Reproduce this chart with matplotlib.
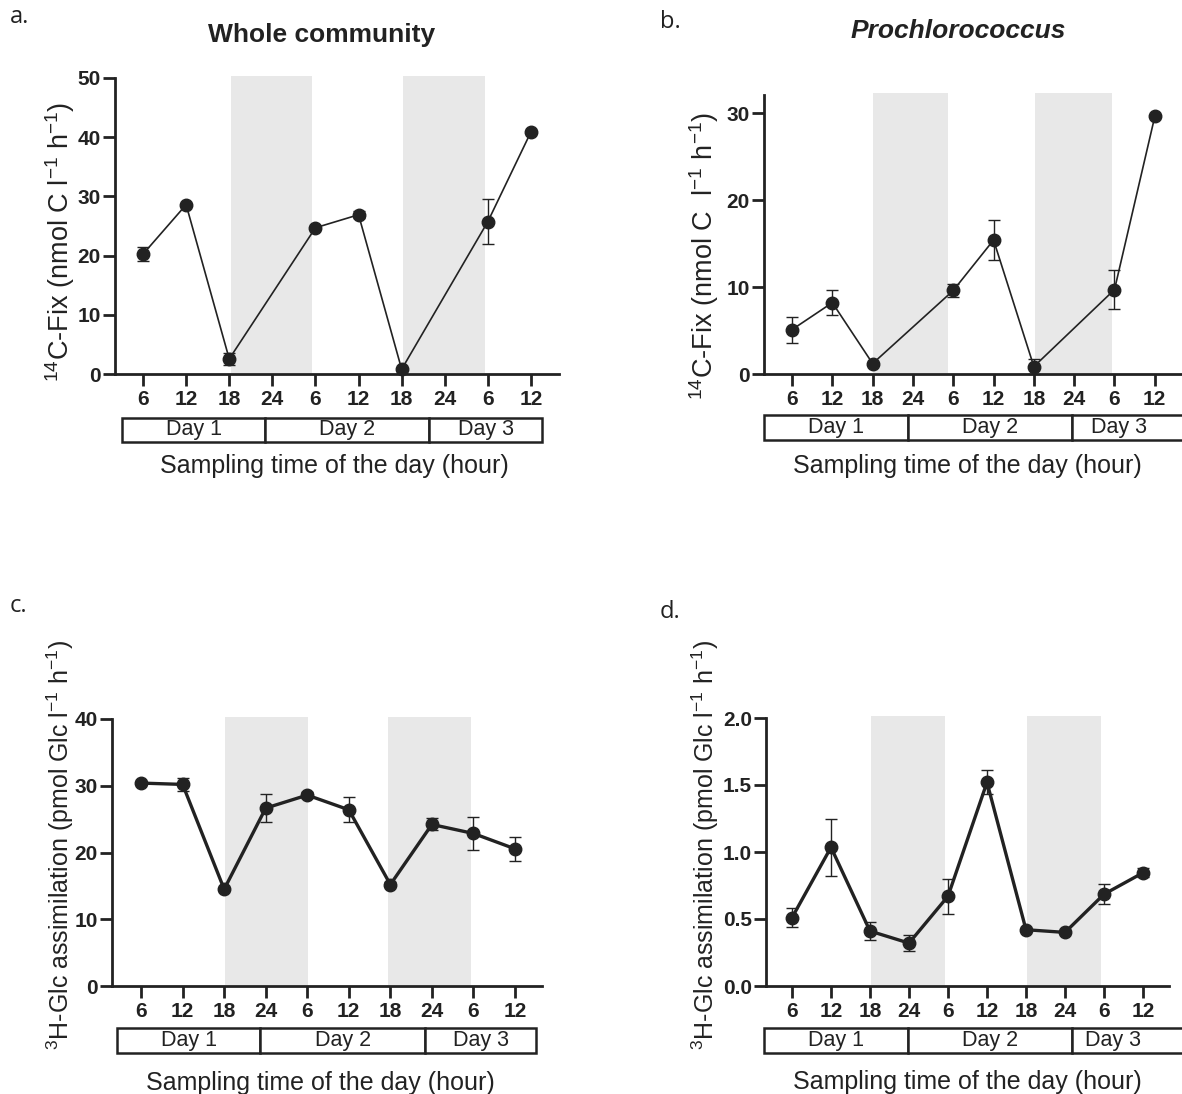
import matplotlib
matplotlib.use('Agg')
import matplotlib.pyplot as plt
import matplotlib.transforms as mtransforms
from matplotlib.patches import Rectangle
from matplotlib.ticker import FormatStrFormatter

plt.rcParams['font.family'] = ['Liberation Sans', 'DejaVu Sans']
plt.rcParams['mathtext.fontset'] = 'custom'
plt.rcParams['mathtext.rm'] = 'Liberation Sans'
plt.rcParams['mathtext.it'] = 'Liberation Sans:italic'
plt.rcParams['mathtext.bf'] = 'Liberation Sans:bold'
plt.rcParams['mathtext.default'] = 'regular'

# ---------------- data ----------------
tick_hours = [6, 12, 18, 24, 30, 36, 42, 48, 54, 60]
tick_labels = ['6', '12', '18', '24', '6', '12', '18', '24', '6', '12']
day_labels = ['Day 1', 'Day 2', 'Day 3']

a_hours = [6, 12, 18, 30, 36, 42, 54, 60]
a_vals = [20.25, 28.6, 2.55, 24.7, 26.9, 0.8, 25.75, 40.9]
a_err = [1.15, 0.3, 1.05, 0.3, 0.6, 0.2, 3.75, 0.3]

b_hours = [6, 12, 18, 30, 36, 42, 54, 60]
b_vals = [5.1, 8.2, 1.2, 9.6, 15.4, 0.85, 9.7, 29.6]
b_err = [1.5, 1.4, 0.2, 0.8, 2.3, 0.85, 2.2, 0.2]

c_hours = [6, 12, 18, 24, 30, 36, 42, 48, 54, 60]
c_vals = [30.4, 30.2, 14.5, 26.65, 28.6, 26.4, 15.2, 24.2, 22.85, 20.55]
c_err = [0.3, 1.0, 0.3, 2.05, 0.5, 1.9, 0.4, 0.9, 2.45, 1.75]

d_hours = [6, 12, 18, 24, 30, 36, 42, 48, 54, 60]
d_vals = [0.51, 1.035, 0.41, 0.32, 0.67, 1.52, 0.42, 0.40, 0.685, 0.845]
d_err = [0.07, 0.215, 0.07, 0.06, 0.13, 0.09, 0.01, 0.01, 0.075, 0.035]

# dark periods (hours)
a_night = [(18.2, 29.5), (42.2, 53.6)]
b_night = [(18.05, 29.2), (42.2, 53.6)]
c_night = [(18.1, 30.1), (41.6, 53.6)]
d_night = [(18.2, 29.5), (42.2, 53.5)]

# ---------------- layout ----------------
W, H = 1182, 1094
INK = '#222222'
SHADE = '#e8e8e8'

fig = plt.figure(figsize=(W / 100, H / 100), dpi=100)


def fx(x):
    return x / W


def fy(y):
    return 1 - y / H


panels = [
    dict(x=a_hours, y=a_vals, e=a_err, night=a_night,
         box=(115, 559, 78, 374), xlim=(2.1, 63.9), ylim=(0, 50),
         yticks=[0, 10, 20, 30, 40, 50], yfmt='%d',
         days=[3.1, 23.0, 45.8, 61.6], dayy=(418, 442),
         ylabel='$^{14}$C-Fix (nmol C l$^{-1}$ h$^{-1}$)', ylpos=(60, 242), ylfs=19.5,
         xlpos=(334, 473), lw=1.2,
         title='Whole community', tstyle='normal', tpos=(322, 35),
         letter='a.', lpos=(10, 23)),
    dict(x=b_hours, y=b_vals, e=b_err, night=b_night,
         box=(764, 1181, 95, 374), xlim=(1.83, 63.9), ylim=(0, 32.07),
         yticks=[0, 10, 20, 30], yfmt='%d',
         days=[1.83, 23.3, 47.7, 66.0], dayy=(415, 440),
         ylabel='$^{14}$C-Fix (nmol C  l$^{-1}$ h$^{-1}$)', ylpos=(704, 256), ylfs=19.5,
         xlpos=(967, 473), lw=1.2,
         title='Prochlorococcus', tstyle='italic', tpos=(958, 31),
         letter='b.', lpos=(660, 28)),
    dict(x=c_hours, y=c_vals, e=c_err, night=c_night,
         box=(112, 542, 719, 986), xlim=(1.8, 63.9), ylim=(0, 40),
         yticks=[0, 10, 20, 30, 40], yfmt='%d',
         days=[2.5, 23.2, 47.0, 63.1], dayy=(1028, 1053),
         ylabel='$^{3}$H-Glc assimilation (pmol Glc l$^{-1}$ h$^{-1}$)', ylpos=(60, 845), ylfs=18,
         xlpos=(320, 1090), lw=2.4,
         title=None, tstyle='normal', tpos=None,
         letter='c.', lpos=(10, 612)),
    dict(x=d_hours, y=d_vals, e=d_err, night=d_night,
         box=(766, 1169, 718, 986), xlim=(2.0, 64.0), ylim=(0, 2.0),
         yticks=[0.0, 0.5, 1.0, 1.5, 2.0], yfmt='%.1f',
         days=[1.7, 23.8, 49.1, 67.0], dayy=(1028, 1053),
         ylabel='$^{3}$H-Glc assimilation (pmol Glc l$^{-1}$ h$^{-1}$)', ylpos=(705, 845), ylfs=18,
         xlpos=(967, 1089), lw=2.4,
         title=None, tstyle='normal', tpos=None,
         letter='d.', lpos=(660, 618)),
]

for p in panels:
    l, r, t, b = p['box']
    ax = fig.add_axes([fx(l), fy(b), (r - l) / W, (b - t) / H])
    ax.set_xlim(*p['xlim'])
    ax.set_ylim(*p['ylim'])
    for s in ['top', 'right']:
        ax.spines[s].set_visible(False)
    for s in ['left', 'bottom']:
        ax.spines[s].set_linewidth(2.0)
        ax.spines[s].set_color(INK)

    for (n0, n1) in p['night']:
        ax.axvspan(n0, n1, ymin=0.004, ymax=1.006, color=SHADE, lw=0,
                   zorder=0, clip_on=False)

    ax.errorbar(p['x'], p['y'], yerr=p['e'], fmt='o', color=INK, ms=9,
                lw=p['lw'], elinewidth=1.0, capsize=4.5, capthick=1.0,
                ls='-', zorder=3, clip_on=False)

    ax.set_xticks(tick_hours)
    ax.set_xticklabels(tick_labels)
    ax.set_yticks(p['yticks'])
    ax.yaxis.set_major_formatter(FormatStrFormatter(p['yfmt']))
    ax.tick_params(axis='x', length=8.6, width=2.0, color=INK, pad=3,
                   labelsize=15, labelcolor=INK)
    ax.tick_params(axis='y', length=8.6, width=2.0, color=INK, pad=1.5,
                   labelsize=15, labelcolor=INK)
    for lab in ax.get_xticklabels() + ax.get_yticklabels():
        lab.set_fontweight('bold')

    # day boxes
    trans = mtransforms.blended_transform_factory(ax.transData, fig.transFigure)
    y0, y1 = p['dayy']
    edges = p['days']
    for i, name in enumerate(day_labels):
        x0, x1 = edges[i], edges[i + 1]
        rect = Rectangle((x0, fy(y1)), x1 - x0, fy(y0) - fy(y1), transform=trans,
                         facecolor='white', edgecolor=INK, lw=1.8, clip_on=False)
        ax.add_patch(rect)
        xc = (x0 + x1) / 2 if x1 < 64 else (x0 + 61.6) / 2
        ax.text(xc, fy((y0 + y1) / 2), name, transform=trans, ha='center',
                va='center', fontsize=15.5, color=INK, clip_on=False)

    fig.text(fx(p['xlpos'][0]), fy(p['xlpos'][1]), 'Sampling time of the day (hour)',
             ha='center', va='baseline', fontsize=18, color=INK)
    fig.text(fx(p['ylpos'][0]), fy(p['ylpos'][1]), p['ylabel'], rotation=90,
             ha='center', va='center', fontsize=p['ylfs'], color=INK)
    if p['title']:
        fig.text(fx(p['tpos'][0]), fy(p['tpos'][1]), p['title'], ha='center',
                 va='center', fontsize=19, fontweight='bold', style=p['tstyle'],
                 color=INK)
    fig.text(fx(p['lpos'][0]), fy(p['lpos'][1]), p['letter'], ha='left',
             va='baseline', fontsize=17, color=INK,
             family=['Open Sans', 'DejaVu Sans'])

fig.savefig('out.png', dpi=100)
